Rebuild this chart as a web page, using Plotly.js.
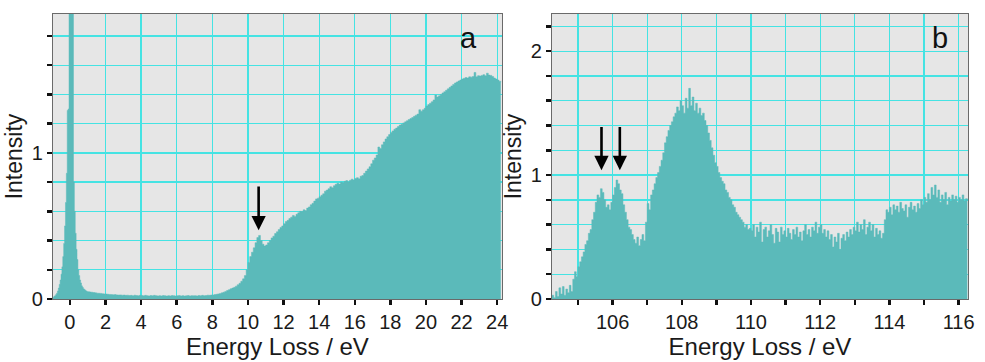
<!DOCTYPE html>
<html>
<head>
<meta charset="utf-8">
<script src="https://cdn.plot.ly/plotly-3.0.1.min.js"></script>
<style>html,body{margin:0;padding:0;background:#fff;}#chart{width:985px;height:362px;}</style>
</head>
<body>
<div id="chart"></div>
<script>
// Panel a: low-loss spectrum. Zero-loss region sampled every 0.05 eV from -0.95 eV
const aZlpStart = -0.95, aZlpStep = 0.05;
const yA_zlp = [
  0.012,0.018,0.022,0.030,0.040,0.055,0.075,0.100,0.130,0.170,
  0.220,0.290,0.380,0.500,0.660,0.860,1.290,1.300,2.600,3.000,
  2.900,2.300,2.000,0.800,0.600,0.450,0.340,0.270,0.200,0.160,
  0.130,0.110,0.090,0.080,0.070,0.065,0.060,0.055,0.052
];
// Loss region sampled every 0.1 eV from 1.0 eV to 24.2 eV
const aLossStart = 1.0, aLossStep = 0.1;
const yA_loss = [
  0.050,0.048,0.046,0.044,0.042,0.040,0.039,0.038,0.036,0.035,
  0.034,0.032,0.031,0.030,0.029,0.030,0.028,0.027,0.028,0.026,
  0.027,0.025,0.026,0.024,0.025,0.023,0.026,0.024,0.022,0.025,
  0.024,0.022,0.025,0.023,0.021,0.024,0.022,0.025,0.023,0.021,
  0.023,0.021,0.024,0.022,0.020,0.023,0.021,0.024,0.022,0.020,
  0.022,0.024,0.021,0.023,0.020,0.022,0.024,0.021,0.023,0.022,
  0.023,0.021,0.024,0.022,0.025,0.023,0.024,0.026,0.025,0.027,
  0.028,0.030,0.032,0.035,0.038,0.042,0.046,0.052,0.058,0.064,
  0.070,0.075,0.080,0.088,0.098,0.108,0.122,0.138,0.160,0.200,
  0.250,0.290,0.320,0.350,0.385,0.420,0.435,0.400,0.375,0.362,
  0.370,0.385,0.400,0.418,0.430,0.448,0.460,0.475,0.490,0.500,
  0.515,0.530,0.538,0.550,0.560,0.572,0.565,0.580,0.590,0.600,
  0.598,0.610,0.605,0.622,0.630,0.645,0.655,0.670,0.685,0.690,
  0.700,0.710,0.720,0.738,0.745,0.755,0.768,0.762,0.775,0.785,
  0.792,0.786,0.800,0.795,0.805,0.810,0.800,0.812,0.820,0.815,
  0.825,0.830,0.822,0.840,0.845,0.860,0.875,0.890,0.905,0.925,
  0.950,0.965,0.985,1.040,1.030,1.055,1.075,1.095,1.110,1.125,
  1.140,1.150,1.162,1.170,1.180,1.190,1.195,1.205,1.212,1.220,
  1.228,1.235,1.242,1.250,1.258,1.265,1.295,1.285,1.295,1.305,
  1.320,1.330,1.340,1.350,1.362,1.395,1.382,1.390,1.400,1.410,
  1.418,1.428,1.438,1.448,1.458,1.468,1.478,1.485,1.492,1.498,
  1.505,1.510,1.515,1.512,1.520,1.518,1.522,1.550,1.520,1.528,
  1.525,1.530,1.535,1.528,1.545,1.532,1.530,1.522,1.512,1.505,
  1.498,1.490,1.482
];

// Panel b: core-loss edge, sampled every 0.05 eV from 104.25 eV
const bStart = 104.25, bStep = 0.05;
const yB = [
  0.03,0.01,0.06,0.02,0.09,0.04,0.10,0.03,0.08,0.05,0.11,0.06,0.16,0.22,0.18,0.26,0.30,0.34,0.38,0.44,
  0.47,0.53,0.56,0.64,0.70,0.78,0.84,0.82,0.89,0.86,0.80,0.74,0.76,0.72,0.78,0.84,0.90,0.96,0.93,0.88,
  0.85,0.76,0.70,0.64,0.58,0.56,0.52,0.48,0.45,0.50,0.43,0.48,0.52,0.47,0.62,0.77,0.72,0.84,0.88,0.93,
  0.98,1.02,1.07,1.12,1.18,1.26,1.31,1.36,1.40,1.43,1.47,1.50,1.55,1.52,1.60,1.56,1.50,1.62,1.54,1.70,
  1.56,1.63,1.52,1.58,1.50,1.54,1.48,1.50,1.44,1.40,1.34,1.28,1.22,1.16,1.10,1.07,1.02,0.98,0.95,0.93,
  0.88,0.86,0.82,0.80,0.76,0.74,0.70,0.68,0.66,0.64,0.62,0.58,0.60,0.56,0.57,0.55,0.60,0.50,0.58,0.54,
  0.62,0.46,0.56,0.58,0.50,0.55,0.60,0.52,0.45,0.57,0.54,0.46,0.58,0.52,0.55,0.50,0.57,0.53,0.48,0.56,
  0.52,0.58,0.50,0.54,0.47,0.55,0.60,0.52,0.56,0.50,0.58,0.55,0.62,0.53,0.58,0.60,0.53,0.56,0.50,0.55,
  0.48,0.52,0.42,0.50,0.46,0.53,0.40,0.49,0.52,0.47,0.54,0.50,0.56,0.52,0.58,0.55,0.62,0.54,0.60,0.56,
  0.64,0.52,0.58,0.62,0.55,0.60,0.50,0.57,0.52,0.55,0.49,0.53,0.64,0.72,0.70,0.74,0.68,0.76,0.72,0.75,
  0.70,0.78,0.73,0.71,0.76,0.66,0.74,0.78,0.72,0.75,0.70,0.77,0.73,0.80,0.76,0.82,0.78,0.85,0.80,0.90,
  0.84,0.92,0.82,0.88,0.78,0.84,0.80,0.86,0.76,0.82,0.79,0.84,0.80,0.83,0.78,0.82,0.80,0.84,0.79,0.81,
  0.80
];

// Tick definitions
const aXTicks = [0,2,4,6,8,10,12,14,16,18,20,22,24];
const aYTicks = [0,0.2,0.4,0.6,0.8,1,1.2,1.4,1.6,1.8];
const aYLabels = ['0','','','','','1','','','',''];
const bXTicks = [105,106,107,108,109,110,111,112,113,114,115,116];
const bXLabels = ['','106','','108','','110','','112','','114','','116'];
const bYTicks = [0,0.2,0.4,0.6,0.8,1,1.2,1.4,1.6,1.8,2,2.2];
const bYLabels = ['0','','','','','1','','','','','2',''];

// Arrow markers (tip x, tip y, tail y)
const arrowsA = [{x:10.6, tip:0.47, tail:0.78}];
const arrowsB = [{x:105.68, tip:1.04, tail:1.40},{x:106.21, tip:1.04, tail:1.40}];

function grid(start, step, n){ const o=[]; for(let i=0;i<n;i++) o.push(+(start+i*step).toFixed(3)); return o; }
const xA = grid(aZlpStart,aZlpStep,yA_zlp.length).concat(grid(aLossStart,aLossStep,yA_loss.length));
const yA = yA_zlp.concat(yA_loss);
const xB = grid(bStart,bStep,yB.length);

const fillCol = '#5bbaba';
const gridCol = '#45e3e3';
const font = 'Liberation Sans, Arial, sans-serif';

const traces = [
  {x:xA, y:yA, xaxis:'x', yaxis:'y', type:'scatter', mode:'lines', line:{shape:'hv', width:0.5, color:fillCol}, fill:'tozeroy', fillcolor:fillCol, hoverinfo:'skip'},
  {x:xB, y:yB, xaxis:'x2', yaxis:'y2', type:'scatter', mode:'lines', line:{shape:'hv', width:0.5, color:fillCol}, fill:'tozeroy', fillcolor:fillCol, hoverinfo:'skip'}
];

function ax(extra){
  return Object.assign({
    showgrid:true, gridcolor:gridCol, gridwidth:1.3, zeroline:false,
    showline:true, linecolor:'#6a6a6a', linewidth:1.2, mirror:true,
    ticks:'outside', ticklen:5, tickwidth:2.5, tickcolor:'#111',
    tickfont:{family:font, size:20, color:'#1a1a1a'}, tickmode:'array'
  }, extra);
}

const annotations = [];
arrowsA.forEach(a=>annotations.push({xref:'x', yref:'y', axref:'x', ayref:'y', x:a.x, y:a.tip, ax:a.x, ay:a.tail, text:'', showarrow:true, arrowhead:2, arrowsize:1.1, arrowwidth:2.6, arrowcolor:'#000', standoff:0}));
arrowsB.forEach(a=>annotations.push({xref:'x2', yref:'y2', axref:'x2', ayref:'y2', x:a.x, y:a.tip, ax:a.x, ay:a.tail, text:'', showarrow:true, arrowhead:2, arrowsize:1.1, arrowwidth:2.6, arrowcolor:'#000', standoff:0}));
annotations.push({xref:'paper', yref:'paper', x:(468-53)/915, y:(299-38)/285, text:'a', showarrow:false, font:{family:font, size:29, color:'#111'}, xanchor:'center', yanchor:'middle'});
annotations.push({xref:'paper', yref:'paper', x:(940-53)/915, y:(299-38)/285, text:'b', showarrow:false, font:{family:font, size:29, color:'#111'}, xanchor:'center', yanchor:'middle'});

const layout = {
  width:985, height:362,
  margin:{l:53, r:17, t:14, b:63},
  paper_bgcolor:'#ffffff', plot_bgcolor:'#e6e6e6',
  showlegend:false,
  font:{family:font, color:'#222'},
  xaxis: ax({domain:[0, 449/915], range:[-0.95, 24.27], tickvals:aXTicks, ticktext:aXTicks.map(String), anchor:'y',
             title:{text:'Energy Loss / eV', font:{family:font, size:24, color:'#1a1a1a'}, standoff:2}}),
  yaxis: ax({domain:[0,1], range:[0, 1.95], tickvals:aYTicks, ticktext:aYLabels, anchor:'x', automargin:true,
             title:{text:'Intensity', font:{family:font, size:23, color:'#1a1a1a'}, standoff:2}}),
  xaxis2: ax({domain:[499/915, 1], range:[104.25, 116.27], tickvals:bXTicks, ticktext:bXLabels, anchor:'y2',
             title:{text:'Energy Loss / eV', font:{family:font, size:24, color:'#1a1a1a'}, standoff:2}}),
  yaxis2: ax({domain:[0,1], range:[0, 2.3], tickvals:bYTicks, ticktext:bYLabels, anchor:'x2', automargin:true,
             title:{text:'Intensity', font:{family:font, size:23, color:'#1a1a1a'}, standoff:2}}),
  annotations: annotations
};

Plotly.newPlot('chart', traces, layout, {displayModeBar:false, staticPlot:true});
</script>
</body>
</html>
